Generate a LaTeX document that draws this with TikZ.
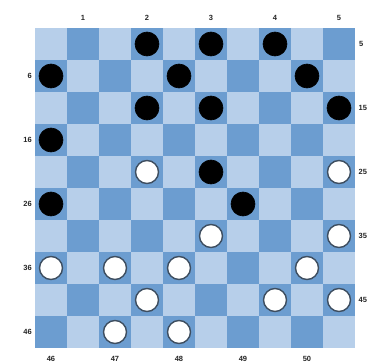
\documentclass[tikz,border=0pt]{standalone}
\usepackage{fontspec}
\setmainfont{Liberation Sans}
\definecolor{lightsq}{HTML}{B7CFEA}
\definecolor{darksq}{HTML}{6C9DD0}
\definecolor{rimcol}{HTML}{3E4E60}
\tikzset{
  blackpc/.style={circle,fill=black,draw=black,line width=0.6pt,minimum size=24pt,inner sep=0pt},
  whitepc/.style={circle,fill=white,draw=rimcol,line width=1.4pt,minimum size=23pt,inner sep=0pt},
  lbl/.style={font=\fontsize{7.5}{8}\selectfont\bfseries,text=black!85,inner sep=0pt}
}
\begin{document}
\begin{tikzpicture}[x=1pt,y=-1pt]
\useasboundingbox (0,0) rectangle (368,364);
\fill[white] (0,0) rectangle (368,364);
% board
\foreach \r in {0,...,9}{
  \foreach \c in {0,...,9}{
    \pgfmathtruncatemacro{\parity}{mod(\r+\c,2)}
    \ifnum\parity=1
      \fill[darksq] ({35+32*\c},{28+32*\r}) rectangle ++(32,32);
    \else
      \fill[lightsq] ({35+32*\c},{28+32*\r}) rectangle ++(32,32);
    \fi
  }
}
% labels
\node[lbl] (t1) at (83,18) {1};
\node[lbl] (t2) at (147,18) {2};
\node[lbl] (t3) at (211,18) {3};
\node[lbl] (t4) at (275,18) {4};
\node[lbl] (t5) at (339,18) {5};
\node[lbl,anchor=east] (l6) at (32,76) {6};
\node[lbl,anchor=east] (l16) at (32,140) {16};
\node[lbl,anchor=east] (l26) at (32,204) {26};
\node[lbl,anchor=east] (l36) at (32,268) {36};
\node[lbl,anchor=east] (l46) at (32,332) {46};
\node[lbl,anchor=west] (r5) at (359,44) {5};
\node[lbl,anchor=west] (r15) at (358.5,108) {15};
\node[lbl,anchor=west] (r25) at (358.5,172) {25};
\node[lbl,anchor=west] (r35) at (358.5,236) {35};
\node[lbl,anchor=west] (r45) at (358.5,300) {45};
\node[lbl] (b46) at (51,359) {46};
\node[lbl] (b47) at (115,359) {47};
\node[lbl] (b48) at (179,359) {48};
\node[lbl] (b49) at (243,359) {49};
\node[lbl] (b50) at (307,359) {50};
% black pieces
\node[blackpc] (p2) at (147,44) {};
\node[blackpc] (p3) at (211,44) {};
\node[blackpc] (p4) at (275,44) {};
\node[blackpc] (p6) at (51,76) {};
\node[blackpc] (p8) at (179,76) {};
\node[blackpc] (p10) at (307,76) {};
\node[blackpc] (p12) at (147,108) {};
\node[blackpc] (p13) at (211,108) {};
\node[blackpc] (p15) at (339,108) {};
\node[blackpc] (p16) at (51,140) {};
\node[blackpc] (p23) at (211,172) {};
\node[blackpc] (p26) at (51,204) {};
\node[blackpc] (p29) at (243,204) {};
% white pieces
\node[whitepc] (w22) at (147,172) {};
\node[whitepc] (w25) at (339,172) {};
\node[whitepc] (w33) at (211,236) {};
\node[whitepc] (w35) at (339,236) {};
\node[whitepc] (w36) at (51,268) {};
\node[whitepc] (w37) at (115,268) {};
\node[whitepc] (w38) at (179,268) {};
\node[whitepc] (w40) at (307,268) {};
\node[whitepc] (w42) at (147,300) {};
\node[whitepc] (w44) at (275,300) {};
\node[whitepc] (w45) at (339,300) {};
\node[whitepc] (w47) at (115,332) {};
\node[whitepc] (w48) at (179,332) {};
\end{tikzpicture}
\end{document}
